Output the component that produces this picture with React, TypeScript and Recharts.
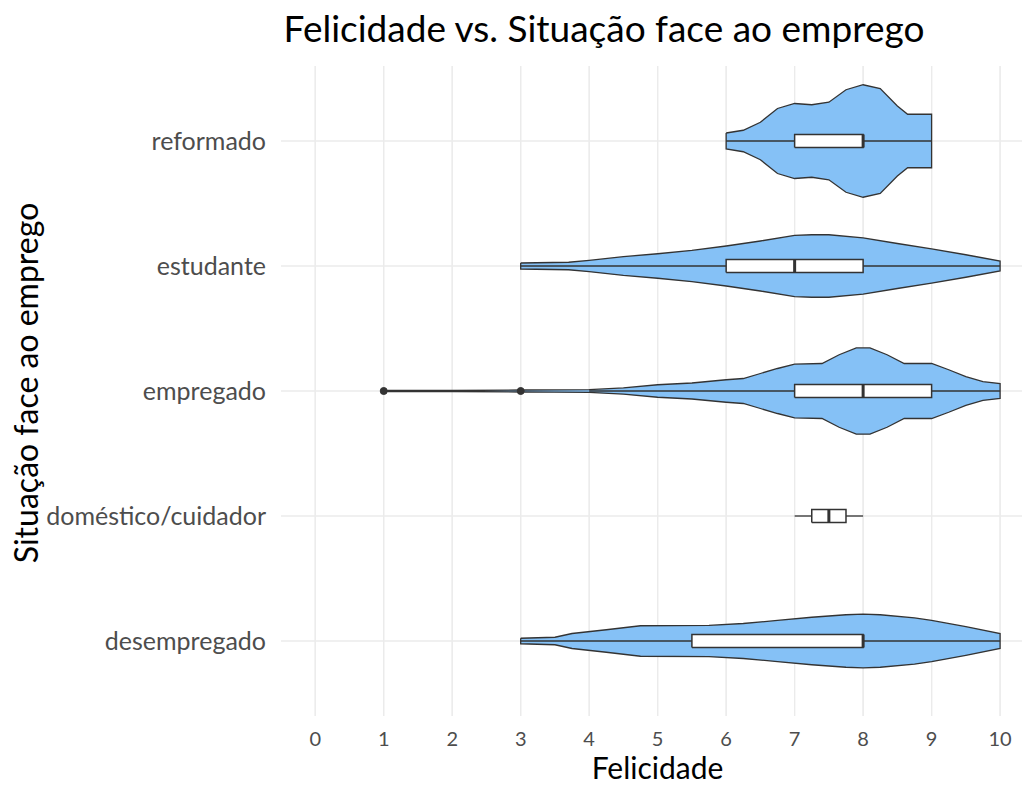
import { ComposedChart, Area, Line, XAxis, YAxis, Label } from 'recharts';

const categories = ['desempregado', 'doméstico/cuidador', 'empregado', 'estudante', 'reformado'];
const categoryPositions = [1, 2, 3, 4, 5];
const felicidadeTicks = [0, 1, 2, 3, 4, 5, 6, 7, 8, 9, 10];
const X_DOMAIN = [-0.5, 10.32];
const Y_DOMAIN = [0.4, 5.6];

// half-widths of each violin (in category units)
const reformadoDens = [
  { x: 6, w: 0.064 }, { x: 6.25, w: 0.086 }, { x: 6.5, w: 0.15 }, { x: 6.75, w: 0.26 },
  { x: 7, w: 0.3 }, { x: 7.25, w: 0.29 }, { x: 7.5, w: 0.31 }, { x: 7.75, w: 0.41 },
  { x: 8, w: 0.45 }, { x: 8.25, w: 0.42 }, { x: 8.5, w: 0.28 }, { x: 8.65, w: 0.214 },
  { x: 9, w: 0.214 },
];
const estudanteDens = [
  { x: 3, w: 0.024 }, { x: 3.7, w: 0.03 }, { x: 4, w: 0.045 }, { x: 4.5, w: 0.075 },
  { x: 5, w: 0.098 }, { x: 5.5, w: 0.125 }, { x: 6, w: 0.16 }, { x: 6.5, w: 0.2 },
  { x: 7, w: 0.245 }, { x: 7.25, w: 0.25 }, { x: 7.5, w: 0.25 }, { x: 8, w: 0.225 },
  { x: 8.5, w: 0.18 }, { x: 9, w: 0.137 }, { x: 9.5, w: 0.09 }, { x: 10, w: 0.04 },
];
const empregadoDens = [
  { x: 1, w: 0.004 }, { x: 2, w: 0.004 }, { x: 3, w: 0.008 }, { x: 3.5, w: 0.009 },
  { x: 4, w: 0.011 }, { x: 4.5, w: 0.025 }, { x: 5, w: 0.05 }, { x: 5.5, w: 0.064 },
  { x: 6, w: 0.09 }, { x: 6.25, w: 0.1 }, { x: 6.5, w: 0.14 }, { x: 6.75, w: 0.18 },
  { x: 7, w: 0.215 }, { x: 7.4, w: 0.22 }, { x: 7.65, w: 0.29 }, { x: 7.9, w: 0.345 },
  { x: 8.1, w: 0.345 }, { x: 8.35, w: 0.29 }, { x: 8.6, w: 0.22 }, { x: 9, w: 0.22 },
  { x: 9.25, w: 0.17 }, { x: 9.5, w: 0.115 }, { x: 9.75, w: 0.075 }, { x: 10, w: 0.06 },
];
const desempregadoDens = [
  { x: 3, w: 0.022 }, { x: 3.5, w: 0.03 }, { x: 3.75, w: 0.06 }, { x: 4.25, w: 0.09 },
  { x: 4.75, w: 0.122 }, { x: 5.75, w: 0.125 }, { x: 6.25, w: 0.14 }, { x: 6.75, w: 0.165 },
  { x: 7.25, w: 0.19 }, { x: 7.75, w: 0.21 }, { x: 8, w: 0.215 }, { x: 8.25, w: 0.21 },
  { x: 8.75, w: 0.185 }, { x: 9, w: 0.165 }, { x: 9.5, w: 0.115 }, { x: 10, w: 0.06 },
];

const violins = [
  { pos: 1, dens: desempregadoDens },
  { pos: 3, dens: empregadoDens },
  { pos: 4, dens: estudanteDens },
  { pos: 5, dens: reformadoDens },
];

// boxplot stats per category
const boxStats = [
  { pos: 1, lo: 3, q1: 5.5, med: 8, q3: 8, hi: 10 },
  { pos: 2, lo: 7, q1: 7.25, med: 7.5, q3: 7.75, hi: 8 },
  { pos: 3, lo: 4, q1: 7, med: 8, q3: 9, hi: 10 },
  { pos: 4, lo: 3, q1: 6, med: 7, q3: 8, hi: 10 },
  { pos: 5, lo: 6, q1: 7, med: 8, q3: 8, hi: 9 },
];
const outliers = [
  { x: 1, y: 3 },
  { x: 3, y: 3 },
];

const FILL = '#85c1f6';
const INK = '#333333';
const GRID = '#ebebeb';
const BOX_H = 0.052;
const FONT = 'Lato, "Open Sans", sans-serif';

function outline(pos: number, dens: { x: number; w: number }[]) {
  const top = dens.map(d => ({ x: d.x, y: pos + d.w }));
  const bottom = [...dens].reverse().map(d => ({ x: d.x, y: pos - d.w }));
  return [...top, ...bottom, top[0]];
}

export default function App() {
  return (
    <div style={{ position: 'absolute', left: 0, top: 0, width: 1022, height: 792, overflow: 'hidden', background: '#fff' }}>
      <div style={{ position: 'absolute', left: 0, top: 5, width: 1022, textAlign: 'center', paddingLeft: 186,
        boxSizing: 'border-box', fontFamily: FONT, fontSize: 37, color: '#000', lineHeight: '46px' }}>
        Felicidade vs. Situação face ao emprego
      </div>
      <ComposedChart width={1022} height={792} margin={{ top: 66, right: 0, bottom: 16, left: 11 }}>
        <XAxis dataKey="x" type="number" domain={X_DOMAIN} ticks={felicidadeTicks} allowDataOverflow
          axisLine={false} tickLine={false} tickSize={0} tickMargin={16} height={60}
          tick={{ fontFamily: FONT, fontSize: 20, fill: '#4d4d4d' }}>
          <Label value="Felicidade" position="insideBottom" offset={-3} dx={6}
            style={{ fontFamily: FONT, fontSize: 30, fill: '#000' }} />
        </XAxis>
        <YAxis type="number" domain={Y_DOMAIN} ticks={categoryPositions} allowDataOverflow width={270}
          axisLine={false} tickLine={false} tickSize={0} tickMargin={15}
          tickFormatter={(v: number) => categories[v - 1]}
          tick={{ fontFamily: FONT, fontSize: 25, fill: '#4d4d4d' }}>
          <Label value="Situação face ao emprego" angle={-90} position="insideLeft" offset={16} dy={-8}
            style={{ fontFamily: FONT, fontSize: 32, fill: '#000', textAnchor: 'middle' }} />
        </YAxis>

        {/* grid drawn as zero-area range areas so it stays beneath the violin fills */}
        {felicidadeTicks.map(t => (
          <Area key={'gx' + t} data={[{ x: t, v: [Y_DOMAIN[0], Y_DOMAIN[0]] }, { x: t, v: [Y_DOMAIN[1], Y_DOMAIN[1]] }]}
            dataKey="v" type="linear" fill="none" stroke={GRID} strokeWidth={1.2} isAnimationActive={false} />
        ))}
        {categoryPositions.map(p => (
          <Area key={'gy' + p} data={[{ x: X_DOMAIN[0], v: [p, p] }, { x: X_DOMAIN[1], v: [p, p] }]}
            dataKey="v" type="linear" fill="none" stroke={GRID} strokeWidth={1.2} isAnimationActive={false} />
        ))}

        {violins.map(v => (
          <Area key={'a' + v.pos} data={v.dens} dataKey={(d: any) => [v.pos - d.w, v.pos + d.w]}
            type="linear" fill={FILL} fillOpacity={1} stroke="none" isAnimationActive={false} />
        ))}
        {violins.map(v => (
          <Line key={'o' + v.pos} data={outline(v.pos, v.dens)} dataKey="y" type="linear"
            stroke={INK} strokeWidth={1.3} dot={false} isAnimationActive={false} />
        ))}

        {boxStats.map(b => (
          <Line key={'wl' + b.pos} data={[{ x: b.lo, y: b.pos }, { x: b.q1, y: b.pos }]} dataKey="y"
            stroke={INK} strokeWidth={1.3} dot={false} isAnimationActive={false} />
        ))}
        {boxStats.map(b => (
          <Line key={'wh' + b.pos} data={[{ x: b.q3, y: b.pos }, { x: b.hi, y: b.pos }]} dataKey="y"
            stroke={INK} strokeWidth={1.3} dot={false} isAnimationActive={false} />
        ))}
        {boxStats.map(b => (
          <Area key={'bf' + b.pos} data={[{ x: b.q1 }, { x: b.q3 }]}
            dataKey={() => [b.pos - BOX_H, b.pos + BOX_H]} type="linear"
            fill="#ffffff" fillOpacity={1} stroke="none" isAnimationActive={false} />
        ))}
        {boxStats.map(b => (
          <Line key={'bo' + b.pos} dataKey="y" type="linear" stroke={INK} strokeWidth={1.5} dot={false}
            isAnimationActive={false}
            data={[
              { x: b.q1, y: b.pos - BOX_H }, { x: b.q3, y: b.pos - BOX_H },
              { x: b.q3, y: b.pos + BOX_H }, { x: b.q1, y: b.pos + BOX_H },
              { x: b.q1, y: b.pos - BOX_H },
            ]} />
        ))}
        {boxStats.map(b => (
          <Line key={'md' + b.pos} data={[{ x: b.med, y: b.pos - BOX_H }, { x: b.med, y: b.pos + BOX_H }]}
            dataKey="y" stroke={INK} strokeWidth={3} dot={false} isAnimationActive={false} />
        ))}

        <Line data={outliers} dataKey="y" stroke="none" isAnimationActive={false}
          dot={{ r: 3.5, fill: INK, stroke: INK, strokeWidth: 1 }} />
      </ComposedChart>
    </div>
  );
}
